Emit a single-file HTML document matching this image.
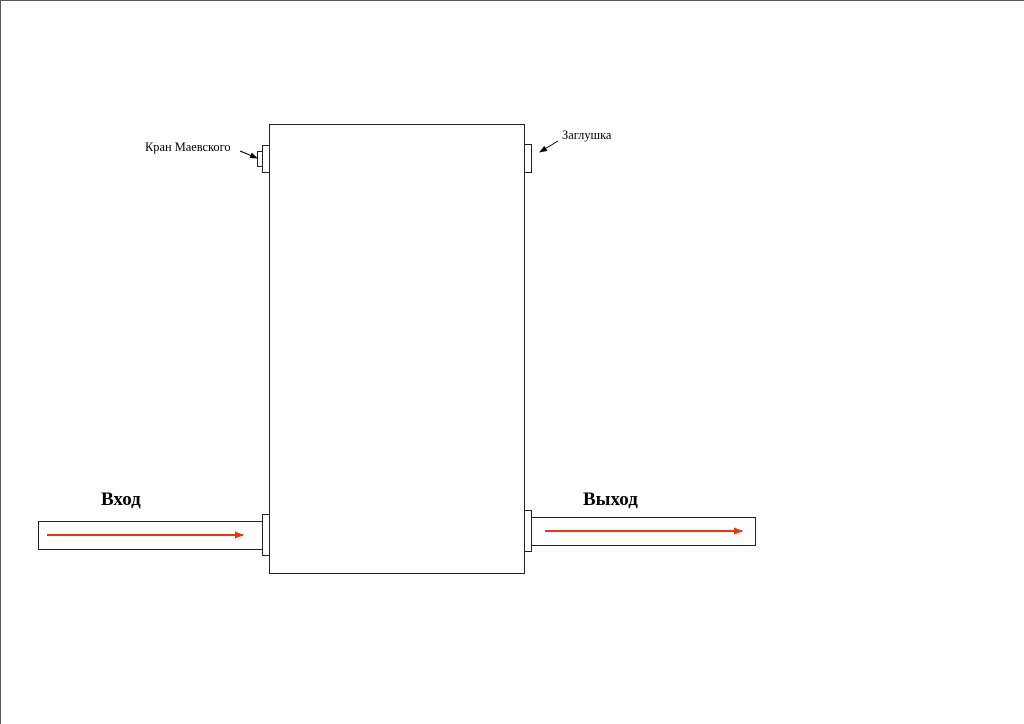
<!DOCTYPE html>
<html><head><meta charset="utf-8"><style>
html,body{margin:0;padding:0;background:#fff;}
body{width:1024px;height:724px;overflow:hidden;position:relative;}
svg{position:absolute;left:0;top:0;}
</style></head><body>
<svg width="1024" height="724" xmlns="http://www.w3.org/2000/svg">
<defs>
<marker id="ra" markerWidth="9" markerHeight="7" refX="8" refY="3.5" orient="auto" markerUnits="userSpaceOnUse"><path d="M0,0 L9,3.5 L0,7 z" fill="#ee3311"/></marker>
<marker id="ka" markerWidth="8" markerHeight="6" refX="7" refY="3" orient="auto" markerUnits="userSpaceOnUse"><path d="M0,0 L8,3 L0,6 z" fill="#000"/></marker>
</defs>
<line x1="0.5" y1="0" x2="0.5" y2="724" stroke="#555"/>
<line x1="0" y1="0.5" x2="1024" y2="0.5" stroke="#555"/>
<g fill="#fff" stroke="#222" stroke-width="1">
<rect x="269.5" y="124.5" width="255" height="449"/>
<rect x="262.5" y="145.5" width="7" height="27"/>
<rect x="257.5" y="151.5" width="5" height="15"/>
<rect x="524.5" y="144.5" width="7" height="28"/>
<rect x="38.5" y="521.5" width="224" height="28"/>
<rect x="262.5" y="514.5" width="7" height="41"/>
<rect x="531.5" y="517.5" width="224" height="28"/>
<rect x="524.5" y="510.5" width="7" height="41"/>
</g>
<line x1="47" y1="535" x2="243" y2="535" stroke="#ee3311" stroke-width="2" marker-end="url(#ra)"/>
<line x1="545" y1="531" x2="742" y2="531" stroke="#ee3311" stroke-width="2" marker-end="url(#ra)"/>
<line x1="240" y1="151" x2="257" y2="158" stroke="#000" stroke-width="1" marker-end="url(#ka)"/>
<line x1="558" y1="141" x2="540" y2="152" stroke="#000" stroke-width="1" marker-end="url(#ka)"/>
<g font-family="Liberation Serif, serif" fill="#000">
<text x="145" y="151" font-size="12.4">Кран Маевского</text>
<text x="562" y="139" font-size="12.4">Заглушка</text>
<text x="101" y="505" font-size="19" font-weight="bold">Вход</text>
<text x="583" y="505" font-size="19" font-weight="bold">Выход</text>
</g>
</svg>
</body></html>
